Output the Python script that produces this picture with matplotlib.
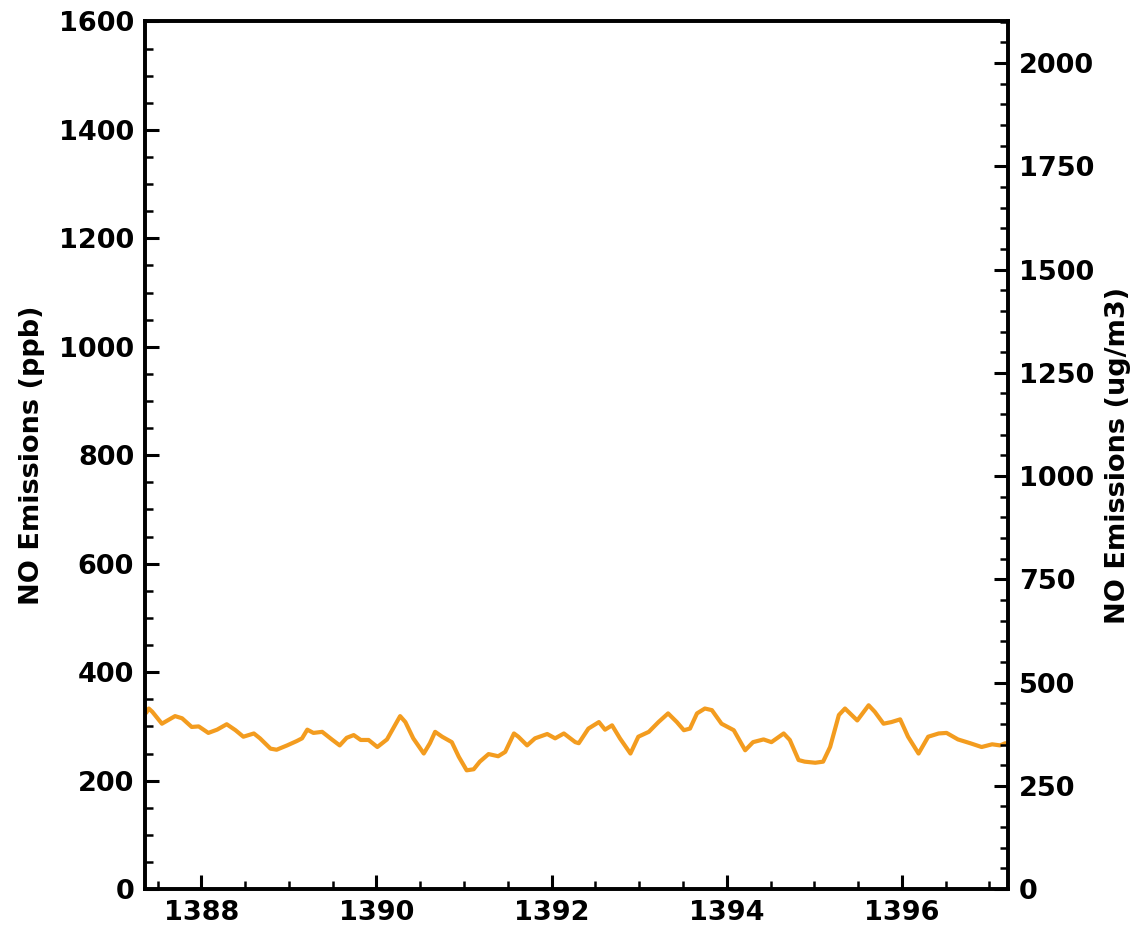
import numpy as np
import matplotlib
matplotlib.use("Agg")
import matplotlib.pyplot as plt
from matplotlib.ticker import MultipleLocator

# NO emissions time series (ppb)
years = [1387.37, 1387.40, 1387.44, 1387.55, 1387.70, 1387.78, 1387.89, 1387.97,
         1388.08, 1388.18, 1388.29, 1388.39, 1388.48, 1388.60, 1388.67, 1388.79,
         1388.86, 1388.98, 1389.09, 1389.15, 1389.21, 1389.28, 1389.38, 1389.49,
         1389.58, 1389.66, 1389.74, 1389.82, 1389.91, 1390.01, 1390.12, 1390.20,
         1390.27, 1390.33, 1390.42, 1390.54, 1390.61, 1390.67, 1390.75, 1390.86,
         1390.94, 1391.03, 1391.11, 1391.18, 1391.28, 1391.39, 1391.47, 1391.57,
         1391.62, 1391.72, 1391.81, 1391.95, 1392.04, 1392.14, 1392.27, 1392.31,
         1392.42, 1392.54, 1392.61, 1392.69, 1392.78, 1392.90, 1392.99, 1393.11,
         1393.22, 1393.33, 1393.43, 1393.51, 1393.58, 1393.66, 1393.75, 1393.83,
         1393.94, 1394.08, 1394.21, 1394.30, 1394.42, 1394.51, 1394.65, 1394.72,
         1394.82, 1394.89, 1395.01, 1395.10, 1395.18, 1395.28, 1395.35, 1395.49,
         1395.62, 1395.69, 1395.79, 1395.88, 1395.98, 1396.07, 1396.19, 1396.30,
         1396.42, 1396.51, 1396.64, 1396.78, 1396.91, 1397.03, 1397.12, 1397.18]
no_ppb = [325, 333, 327, 305, 319, 315, 299, 300,
          288, 294, 304, 293, 281, 287, 278, 259,
          257, 265, 273, 278, 294, 288, 290, 276,
          265, 279, 284, 275, 275, 262, 276, 299,
          319, 308, 278, 250, 269, 290, 281, 271,
          244, 219, 221, 235, 249, 245, 253, 287,
          281, 265, 278, 286, 278, 287, 271, 269,
          296, 308, 294, 302, 278, 250, 281, 290,
          308, 324, 308, 293, 296, 324, 333, 330,
          305, 293, 256, 271, 276, 271, 287, 275,
          238, 235, 233, 235, 262, 321, 333, 311,
          339, 327, 305, 308, 313, 281, 250, 281,
          287, 288, 276, 269, 262, 267, 265, 269]

ppb_to_ugm3 = 1.313  # conversion factor used for the right axis
x_ticks = [1388, 1390, 1392, 1394, 1396]

fig = plt.figure(figsize=(11.35, 9.31), dpi=100)
ax = fig.add_axes([0.128, 0.045, 0.760, 0.932])

ax.plot(years, no_ppb, color='#f39c1f', linewidth=3.0,
        solid_joinstyle='round', solid_capstyle='round')

ax.set_xlim(1387.36, 1397.21)
ax.set_ylim(0, 1600)
ax.set_xticks(x_ticks)
ax.xaxis.set_minor_locator(MultipleLocator(0.5))
ax.yaxis.set_major_locator(MultipleLocator(200))
ax.yaxis.set_minor_locator(MultipleLocator(50))
ax.set_ylabel('NO Emissions (ppb)', fontsize=19.5, fontweight='bold', labelpad=10)

# second y axis in ug/m3
ax2 = ax.twinx()
ax2.set_ylim(0, 1600 * ppb_to_ugm3)
ax2.yaxis.set_major_locator(MultipleLocator(250))
ax2.yaxis.set_minor_locator(MultipleLocator(50))
ax2.set_ylabel('NO Emissions (ug/m3)', fontsize=19.5, fontweight='bold', labelpad=8)

for a in (ax, ax2):
    a.tick_params(which='major', direction='in', length=10, width=2.2, labelsize=19.5, pad=8)
    a.tick_params(which='minor', direction='in', length=6, width=1.8)
    for lab in a.get_xticklabels() + a.get_yticklabels():
        lab.set_fontweight('bold')
    for s in a.spines.values():
        s.set_linewidth(2.6)

ax.tick_params(axis='y', which='both', right=False)
ax2.tick_params(axis='y', which='both', left=False)

fig.savefig('out.png', dpi=100)
